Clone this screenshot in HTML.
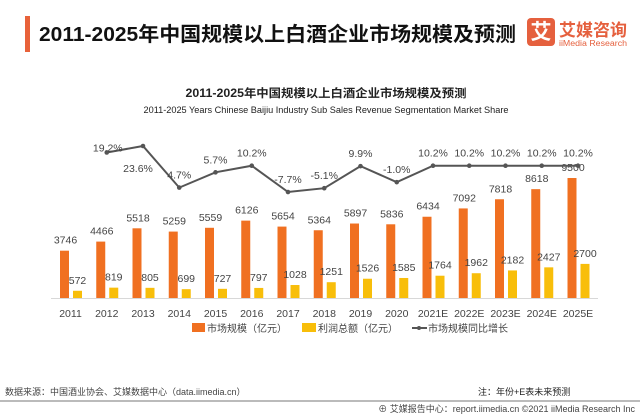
<!DOCTYPE html>
<html><head><meta charset="utf-8"><style>
html,body{margin:0;padding:0;background:#fff;}
svg{display:block;font-family:"Liberation Sans","Noto Sans CJK SC",sans-serif;}
</style></head><body>
<svg id="chart" width="640" height="416" viewBox="0 0 640 416" xmlns="http://www.w3.org/2000/svg">
<rect x="25" y="16" width="5" height="36" fill="#E8623A"/>
<text x="39" y="41" font-size="20" font-weight="bold" fill="#111" textLength="477" lengthAdjust="spacingAndGlyphs">2011-2025年中国规模以上白酒企业市场规模及预测</text>
<g>
<rect x="527" y="18" width="28" height="28" rx="4" fill="#E5603E"/>
<text x="541" y="39" font-size="21" font-weight="bold" fill="#fff" text-anchor="middle">艾</text>
<text x="559" y="36" font-size="17" font-weight="bold" fill="#E5603E" textLength="68" lengthAdjust="spacingAndGlyphs">艾媒咨询</text>
<text x="559" y="46" font-size="8" fill="#E5603E" textLength="68" lengthAdjust="spacingAndGlyphs">iiMedia Research</text>
</g>
<text x="326" y="97" font-size="11.5" font-weight="bold" fill="#222" text-anchor="middle" textLength="281" lengthAdjust="spacingAndGlyphs">2011-2025年中国规模以上白酒企业市场规模及预测</text>
<text x="326" y="113" font-size="9" fill="#222" text-anchor="middle" textLength="365" lengthAdjust="spacingAndGlyphs">2011-2025 Years Chinese Baijiu Industry Sub Sales Revenue Segmentation Market Share</text>
<line x1="51" y1="298.5" x2="598" y2="298.5" stroke="#d8d8d8" stroke-width="1"/>
<g id="plot"></g>
<g>
<g>
<rect x="192" y="323" width="13" height="9" fill="#F07021"/>
<text x="207" y="332" font-size="10" fill="#444">市场规模（亿元）</text></g>
<g>
<rect x="302" y="323" width="14" height="9" fill="#F8BE0A"/>
<text x="318" y="332" font-size="10" fill="#444">利润总额（亿元）</text></g>
<g>
<line x1="412" y1="328" x2="427" y2="328" stroke="#555" stroke-width="2"/>
<circle cx="419" cy="328" r="2" fill="#555"/>
<text x="428" y="332" font-size="10" fill="#444">市场规模同比增长</text></g>
</g>
<text x="5" y="395" font-size="9" fill="#444">数据来源：中国酒业协会、艾媒数据中心（data.iimedia.cn）</text>
<text x="478" y="395" font-size="9" fill="#222">注：年份+E表未来预测</text>
<rect x="0" y="400" width="640" height="2" fill="#bbb"/>
<text x="635" y="412" font-size="9" fill="#444" text-anchor="end">⊕ 艾媒报告中心：report.iimedia.cn  ©2021  iiMedia Research  Inc</text>
</svg>
<script>
const categories = ["2011","2012","2013","2014","2015","2016","2017","2018","2019","2020","2021E","2022E","2023E","2024E","2025E"];
const marketSize = [3746,4466,5518,5259,5559,6126,5654,5364,5897,5836,6434,7092,7818,8618,9500];
const profit = [572,819,805,699,727,797,1028,1251,1526,1585,1764,1962,2182,2427,2700];
const growthYears = ["2012","2013","2014","2015","2016","2017","2018","2019","2020","2021E","2022E","2023E","2024E","2025E"];
const growth = [19.2,23.6,-4.7,5.7,10.2,-7.7,-5.1,9.9,-1.0,10.2,10.2,10.2,10.2,10.2];
const growthLabels = ["19.2%","23.6%","4.7%","5.7%","10.2%","-7.7%","-5.1%","9.9%","-1.0%","10.2%","10.2%","10.2%","10.2%","10.2%"];

const NS = "http://www.w3.org/2000/svg";
const plot = document.getElementById("plot");
const baseY = 298;
const xC = i => 70.5 + i * 36.25;
const xIdx = c => xC(categories.indexOf(c));
const yBar = v => baseY - v * 0.01263;
const yLine = v => 180.7 - v * 1.47;
function mk(tag, attrs){const e=document.createElementNS(NS,tag);for(const k in attrs)e.setAttribute(k,attrs[k]);plot.appendChild(e);return e;}
function txt(x,y,s,size,fill,anchor){const t=mk("text",{x:x,y:y,"font-size":size,fill:fill,"text-anchor":anchor||"middle"});t.textContent=s;return t;}

categories.forEach((c,i)=>{
  const cx = xC(i);
  const y1 = yBar(marketSize[i]);
  const b1 = mk("rect",{x:cx-10.5,y:y1,width:9,height:baseY-y1,fill:"#F07021"});
  
  
  const l1 = txt(cx-5,y1-7,String(marketSize[i]),10.5,"#444");
  
  
  const y2 = yBar(profit[i]);
  const b2 = mk("rect",{x:cx+2.5,y:y2,width:9,height:baseY-y2,fill:"#F8BE0A"});
  
  
  const l2 = txt(cx+7,y2-7,String(profit[i]),10.5,"#444");
  
  
  const xl = txt(cx,317,c,10.5,"#444");
  
  
});

const pts = growth.map((v,i)=>[xIdx(growthYears[i]), yLine(v)]);
const path = mk("polyline",{points:pts.map(p=>p.join(",")).join(" "),fill:"none",stroke:"#555","stroke-width":2});


pts.forEach((p,i)=>{
  const d = mk("circle",{cx:p[0],cy:p[1],r:2.3,fill:"#555"});
  
  
  let dy = -9, dx = 0;
  if (i===0){dy=-1; dx=1;}
  if (i===1){dy=26; dx=-5;}
  const t = txt(p[0]+dx,p[1]+dy,growthLabels[i],10.5,"#444");
  
  
});
</script>
</body></html>
